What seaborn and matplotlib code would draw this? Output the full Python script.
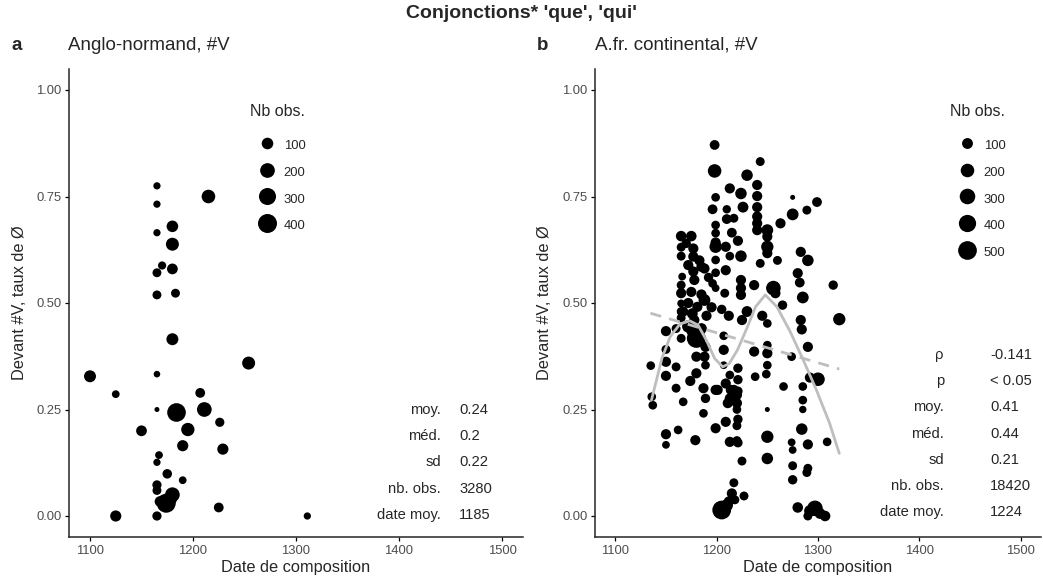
import numpy as np
import pandas as pd
import matplotlib
matplotlib.use('Agg')
import matplotlib.pyplot as plt
from matplotlib.lines import Line2D
import seaborn as sns

# ---------------------------------------------------------------
# Data
# ---------------------------------------------------------------
# Panel a : Anglo-normand
an_date = [1165, 1165, 1215, 1165, 1180, 1180, 1170, 1165, 1180, 1165, 1183,
           1180, 1254, 1100, 1165, 1125, 1207, 1165, 1184, 1211, 1226, 1150,
           1195, 1190, 1229, 1167, 1165, 1175, 1190, 1165, 1165, 1180, 1174,
           1168, 1225, 1125, 1165, 1311, 1178]
an_taux = [0.775, 0.732, 0.750, 0.665, 0.680, 0.638, 0.588, 0.571, 0.580, 0.519, 0.523,
           0.415, 0.359, 0.328, 0.333, 0.286, 0.289, 0.250, 0.243, 0.250, 0.220, 0.200,
           0.203, 0.165, 0.157, 0.143, 0.126, 0.099, 0.084, 0.073, 0.060, 0.050, 0.030,
           0.034, 0.020, 0.000, 0.000, 0.000, 0.040]
an_nb = [25, 25, 160, 25, 100, 140, 35, 45, 80, 45, 45,
         110, 140, 110, 20, 30, 60, 15, 380, 200, 50, 80,
         150, 90, 90, 30, 25, 55, 30, 50, 45, 200, 400,
         80, 60, 90, 50, 25, 150]

# Panel b : ancien français continental
fr_date = [1198, 1198, 1243, 1230, 1213, 1224, 1240, 1240, 1275, 1299, 1289, 1275, 1263,
           1199, 1196, 1210, 1226, 1240, 1210, 1217, 1240, 1240, 1240, 1250, 1250, 1199,
           1199, 1215, 1165, 1175, 1199, 1221, 1165, 1177, 1199, 1209, 1250, 1165, 1177,
           1199, 1213, 1224, 1250, 1260, 1243, 1283, 1290, 1172, 1185, 1188, 1177, 1209,
           1199, 1166, 1178, 1280, 1282, 1315, 1224, 1237, 1256, 1258, 1165, 1165, 1175,
           1196, 1199, 1208, 1224, 1224, 1285, 1165, 1188, 1181, 1167, 1165, 1165, 1176,
           1190, 1205, 1212, 1230, 1245, 1265,
           1321, 1150, 1135, 1136, 1137, 1150, 1150, 1160, 1150, 1160, 1167, 1165, 1180,
           1177, 1178, 1172, 1185, 1189, 1188, 1180, 1189, 1174, 1180, 1187, 1189, 1199,
           1207, 1207, 1207, 1213, 1209, 1217, 1213, 1220, 1209, 1199, 1220, 1213, 1220,
           1187, 1179, 1162, 1150, 1150, 1225, 1225, 1237, 1238, 1250, 1250, 1250, 1250,
           1249, 1250, 1250, 1250, 1266, 1274, 1284, 1283, 1290, 1292, 1300, 1285, 1285,
           1285, 1284, 1274, 1290, 1275, 1309, 1275, 1290, 1289, 1275,
           1201, 1214, 1220, 1211, 1220, 1221, 1221, 1221, 1221, 1221,
           1205, 1212, 1215, 1217, 1227, 1218, 1210,
           1280, 1297, 1290, 1307, 1302, 1292,
           1170, 1183, 1192, 1172, 1185, 1195, 1160]
fr_taux = [0.871, 0.810, 0.832, 0.800, 0.769, 0.757, 0.777, 0.751, 0.748, 0.737, 0.718, 0.708, 0.687,
           0.748, 0.720, 0.720, 0.725, 0.725, 0.697, 0.699, 0.703, 0.687, 0.671, 0.671, 0.656, 0.683,
           0.664, 0.665, 0.657, 0.657, 0.642, 0.646, 0.631, 0.628, 0.632, 0.632, 0.632, 0.610, 0.609,
           0.601, 0.610, 0.610, 0.617, 0.600, 0.593, 0.620, 0.600, 0.589, 0.585, 0.581, 0.574, 0.577,
           0.571, 0.562, 0.554, 0.570, 0.548, 0.542, 0.554, 0.542, 0.535, 0.523, 0.542, 0.523, 0.526,
           0.546, 0.535, 0.523, 0.535, 0.519, 0.513, 0.499, 0.507, 0.491, 0.480, 0.480, 0.465, 0.475,
           0.470, 0.485, 0.470, 0.480, 0.470, 0.495,
           0.462, 0.434, 0.353, 0.280, 0.260, 0.391, 0.362, 0.350, 0.329, 0.300, 0.268, 0.417, 0.417,
           0.437, 0.460, 0.445, 0.440, 0.397, 0.374, 0.374, 0.354, 0.317, 0.335, 0.300, 0.276, 0.296,
           0.423, 0.390, 0.354, 0.331, 0.311, 0.296, 0.276, 0.250, 0.221, 0.206, 0.212, 0.174, 0.177,
           0.241, 0.178, 0.202, 0.192, 0.167, 0.129, 0.460, 0.386, 0.327, 0.452, 0.401, 0.382, 0.354,
           0.333, 0.250, 0.186, 0.135, 0.304, 0.374, 0.438, 0.460, 0.397, 0.325, 0.321, 0.304, 0.272,
           0.250, 0.204, 0.173, 0.168, 0.155, 0.174, 0.118, 0.112, 0.102, 0.085,
           0.296, 0.296, 0.284, 0.265, 0.265, 0.347, 0.320, 0.293, 0.227, 0.172,
           0.014, 0.034, 0.053, 0.078, 0.047, 0.038, 0.025,
           0.020, 0.018, 0.000, 0.000, 0.006, 0.012,
           0.640, 0.600, 0.560, 0.500, 0.520, 0.490, 0.440]
fr_nb = [70, 200, 50, 120, 80, 120, 80, 80, 10, 70, 50, 130, 80,
         45, 70, 40, 100, 80, 70, 50, 80, 80, 80, 130, 80, 45,
         45, 70, 90, 90, 80, 80, 50, 80, 150, 80, 150, 50, 80,
         45, 45, 120, 80, 50, 50, 80, 120, 80, 80, 80, 80, 80,
         45, 30, 80, 80, 70, 60, 80, 80, 250, 80, 50, 80, 80,
         45, 30, 50, 80, 80, 130, 30, 130, 80, 80, 50, 50, 100,
         80, 60, 80, 100, 80, 60,
         150, 80, 45, 45, 45, 50, 80, 50, 80, 50, 45, 50, 520,
         250, 80, 150, 100, 80, 80, 80, 45, 80, 80, 80, 60, 80,
         45, 80, 30, 45, 80, 80, 80, 45, 80, 80, 50, 80, 50,
         45, 80, 45, 80, 30, 50, 80, 80, 45, 45, 45, 80, 45,
         45, 10, 150, 120, 45, 45, 80, 80, 80, 80, 200, 45, 45,
         25, 120, 30, 80, 30, 45, 50, 50, 50, 60,
         80, 80, 80, 80, 80, 60, 60, 60, 60, 60,
         500, 80, 80, 50, 50, 50, 150,
         90, 300, 50, 90, 100, 120,
         60, 80, 60, 80, 80, 80, 50]

# smoothed curves (panel b)
loess_date = [1135.7, 1146, 1154.2, 1163.9, 1173.6, 1181.7, 1189.8, 1198, 1206, 1212.5,
              1220.6, 1230.4, 1238.4, 1248, 1259.5, 1272.5, 1285.5, 1298.4, 1311.4, 1321]
loess_taux = [0.272, 0.370, 0.421, 0.451, 0.458, 0.448, 0.413, 0.370, 0.350, 0.358,
              0.390, 0.444, 0.491, 0.519, 0.491, 0.433, 0.366, 0.296, 0.218, 0.147]
lm_date = [1134.7, 1321]
lm_taux = [0.476, 0.345]

legend_a = [100, 200, 300, 400]
legend_b = [100, 200, 300, 400, 500]

stats_a_lab = ['moy.', 'méd.', 'sd', 'nb. obs.', 'date moy.']
stats_a_val = ['0.24', '0.2', '0.22', '3280', '1185']
stats_b_lab = ['ρ', 'p', 'moy.', 'méd.', 'sd', 'nb. obs.', 'date moy.']
stats_b_val = ['-0.141', '< 0.05', '0.41', '0.44', '0.21', '18420', '1224']

# ---------------------------------------------------------------
sns.set_style('ticks')
plt.rcParams['font.family'] = ['Liberation Sans', 'DejaVu Sans']

W, H = 1043, 584
fig = plt.figure(figsize=(W / 100, H / 100), dpi=100)


def diam_pt(v, vmin, vmax):
    # ggplot-like area scale: diameter grows with sqrt of value
    return (5 + 14 * np.sqrt((v - vmin) / (vmax - vmin))) * 0.72


def panel(rect, date, taux, nb, leg_vals, leg_x):
    ax = fig.add_axes(rect)
    df = pd.DataFrame({'date': date, 'taux': taux, 'nb': nb})
    vmin, vmax = df['nb'].min(), df['nb'].max()
    sizes = {v: diam_pt(v, vmin, vmax) ** 2 for v in df['nb'].unique()}
    sns.scatterplot(data=df, x='date', y='taux', size='nb', sizes=sizes,
                    color='black', linewidth=0, legend=False, ax=ax)
    ax.set_xlim(1080, 1520)
    ax.set_ylim(-0.05, 1.05)
    ax.set_xticks([1100, 1200, 1300, 1400, 1500])
    ax.set_yticks([0, 0.25, 0.5, 0.75, 1.0])
    ax.set_yticklabels(['0.00', '0.25', '0.50', '0.75', '1.00'])
    ax.tick_params(colors='black', labelcolor='#4D4D4D', labelsize=9.4,
                   length=3, width=0.9, pad=2.5)
    for s in ['left', 'bottom']:
        ax.spines[s].set_linewidth(1.1)
    sns.despine(ax=ax)
    ax.set_xlabel('Date de composition', fontsize=11.8, labelpad=2)
    ax.set_ylabel('Devant #V, taux de Ø', fontsize=11.8, labelpad=7)

    # size legend, title drawn apart to get ggplot spacing
    handles = [Line2D([], [], marker='o', ls='', color='black',
                      markersize=diam_pt(v, vmin, vmax), markeredgewidth=0)
               for v in leg_vals]
    ax.legend(handles, [str(v) for v in leg_vals],
              loc='upper left', bbox_to_anchor=(leg_x / W, 1 - 137 / H),
              bbox_transform=fig.transFigure, frameon=False,
              fontsize=9.4, handlelength=1.2, handleheight=1.5,
              labelspacing=0.82, handletextpad=0.7,
              borderaxespad=0, borderpad=0)
    fig.text((leg_x - 9) / W, 1 - 112 / H, 'Nb obs.', ha='left', va='center',
             fontsize=11.5)
    return ax


def stats(x_lab, x_val, y_top, labs, vals):
    for i, (l, v) in enumerate(zip(labs, vals)):
        y = y_top + i * 26.2
        fig.text(x_lab / W, 1 - y / H, l, ha='right', va='center', fontsize=10.6)
        fig.text(x_val / W, 1 - y / H, v, ha='left', va='center', fontsize=10.6)


bottom = (H - 537.3) / H
height = 468.6 / H
ax_a = panel([69.4 / W, bottom, 453.2 / W, height], an_date, an_taux, an_nb,
             legend_a, 259)
ax_b = panel([595 / W, bottom, 446 / W, height], fr_date, fr_taux, fr_nb,
             legend_b, 959)

sns.lineplot(x=loess_date, y=loess_taux, color='#BEBEBE', linewidth=2,
             ax=ax_b)
sns.lineplot(x=lm_date, y=lm_taux, color='#BEBEBE', linewidth=2,
             linestyle=(0, (4, 3)), ax=ax_b)

stats(441, 459, 410, stats_a_lab, stats_a_val)
stats(944, 990, 355, stats_b_lab, stats_b_val)

fig.text(0.5, 1 - 13 / H, "Conjonctions* 'que', 'qui'", ha='center', va='center',
         fontsize=14, fontweight='bold')
fig.text(12 / W, 1 - 45 / H, 'a', ha='left', va='center', fontsize=13.5, fontweight='bold')
fig.text(68 / W, 1 - 45 / H, 'Anglo-normand, #V', ha='left', va='center', fontsize=13.5)
fig.text(537 / W, 1 - 45 / H, 'b', ha='left', va='center', fontsize=13.5, fontweight='bold')
fig.text(595 / W, 1 - 45 / H, 'A.fr. continental, #V', ha='left', va='center', fontsize=13.5)

fig.savefig('out.png', dpi=100)
